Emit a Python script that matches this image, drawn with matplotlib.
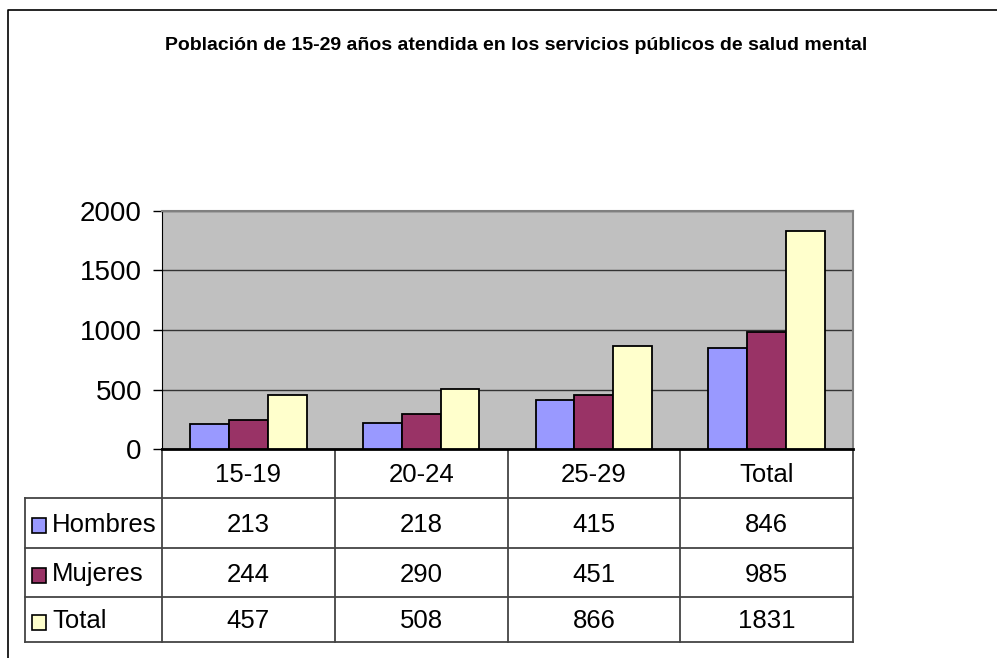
import matplotlib
matplotlib.use("Agg")
import matplotlib.pyplot as plt
from matplotlib import font_manager
import numpy as np

categories = ["15-19", "20-24", "25-29", "Total"]
series_names = ["Hombres", "Mujeres", "Total"]
hombres = [213, 218, 415, 846]
mujeres = [244, 290, 451, 985]
total = [457, 508, 866, 1831]
yticks = [0, 500, 1000, 1500, 2000]
title = "Población de 15-29 años atendida en los servicios públicos de salud mental"

colors = ["#9999FF", "#993366", "#FFFFCC"]
series = [hombres, mujeres, total]

avail = {f.name for f in font_manager.fontManager.ttflist}
fam = "Liberation Sans Narrow" if "Liberation Sans Narrow" in avail else "Liberation Sans"
plt.rcParams["font.family"] = [fam, "DejaVu Sans"]

W, H = 997, 658
fig = plt.figure(figsize=(W / 100, H / 100), dpi=100)

# overlay axes in pixel coordinates
ov = fig.add_axes([0, 0, 1, 1])
ov.set_xlim(0, W)
ov.set_ylim(H, 0)
ov.axis("off")

# outer border (left and top)
ov.plot([8, 8, W + 5], [H + 5, 10, 10], color="black", lw=1.2)

# title
ov.text(516, 46, title, ha="center", va="center", fontsize=14, fontweight="bold")

# plot area
L, R, T, B = 162, 853, 211, 449
ax = fig.add_axes([L / W, 1 - B / H, (R - L) / W, (B - T) / H])
ax.set_facecolor("#C0C0C0")
x = np.arange(len(categories))
bw = 0.225
for i, (vals, c) in enumerate(zip(series, colors)):
    ax.bar(x + (i - 1) * bw, vals, width=bw, color=c, edgecolor="black", linewidth=1.3, zorder=3)
ax.set_xlim(-0.5, len(categories) - 0.5)
ax.set_ylim(0, 2000)
ax.set_yticks(yticks)
ax.set_yticklabels([str(v) for v in yticks], fontsize=20)
ax.tick_params(axis="y", length=6.5, width=1, direction="out", pad=8)
ax.set_xticks([])
ax.yaxis.grid(True, color="#333333", lw=1, zorder=0)
ax.set_axisbelow(True)
for s in ["top", "right"]:
    ax.spines[s].set_color("#808080")
    ax.spines[s].set_linewidth(1.5)
ax.spines["left"].set_color("black")
ax.spines["bottom"].set_color("black")
ax.spines["bottom"].set_linewidth(2)

# data table
col_edges = [L + (R - L) * k / len(categories) for k in range(len(categories) + 1)]
row_edges = [B, 498, 548, 597, 642]
TL = 25
lc = "#444444"
for k, xe in enumerate(col_edges):
    ov.plot([xe, xe], [B, row_edges[-1]], color=lc, lw=1.3)
ov.plot([TL, TL], [row_edges[1], row_edges[-1]], color=lc, lw=1.3)
for ye in row_edges[1:]:
    ov.plot([TL, R], [ye, ye], color=lc, lw=1.3)

fs = 18.5
for k, cat in enumerate(categories):
    cx = (col_edges[k] + col_edges[k + 1]) / 2
    ov.text(cx, (row_edges[0] + row_edges[1]) / 2 + 2, cat, ha="center", va="center", fontsize=fs)
for r, (name, vals, c) in enumerate(zip(series_names, series, colors)):
    cy = (row_edges[r + 1] + row_edges[r + 2]) / 2 + 2
    ov.add_patch(plt.Rectangle((32, cy - 7), 14, 15, facecolor=c, edgecolor="black", lw=1.2))
    ov.text(52, cy, name, ha="left", va="center", fontsize=fs)
    for k, v in enumerate(vals):
        cx = (col_edges[k] + col_edges[k + 1]) / 2
        ov.text(cx, cy, str(v), ha="center", va="center", fontsize=fs)

fig.savefig("out.png", dpi=100)
